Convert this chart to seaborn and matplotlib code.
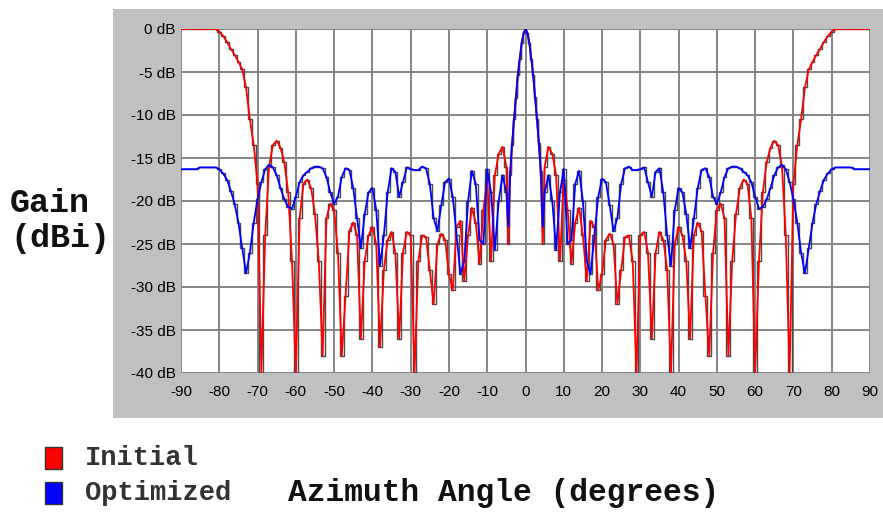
import numpy as np
import pandas as pd
import matplotlib
matplotlib.use("Agg")
import matplotlib.pyplot as plt
import seaborn as sns
from matplotlib.patches import Rectangle

# ---------------- data ----------------
angles = (list(range(-90, -4))
          + [-4.5, -4, -3.5, -3, -2.5, -2, -1.5, -1, -0.5, 0,
             0.5, 1, 1.5, 2, 2.5, 3, 3.5, 4, 4.5]
          + list(range(5, 91)))

initial_db = [
    0, 0, 0, 0, 0, 0, 0, 0, 0, 0,
    -0.3, -0.8, -1.5, -2.3, -3.0, -3.8, -4.7, -6.8, -10.5, -13.5,
    -18, -40, -24, -16, -13.5, -13, -13.8, -15.5, -19, -27,
    -40, -22, -18, -17.5, -18.5, -21.5, -27, -38, -22, -20.3,
    -21, -26, -38, -31, -23.5, -22.5, -24, -36, -27, -24,
    -23, -25, -37, -28, -24.5, -23.6, -26, -36, -26, -23.6,
    -24, -40, -27, -24, -24.2, -28, -32, -25, -23.8, -24.5,
    -28.5, -30.4, -23, -22.3, -29.3, -24, -20.8, -22.5, -27.3, -21,
    -17.5, -27, -17, -14.5, -13.7, -16,
    # main lobe, 0.5 degree steps (-4.5 .. 4.5)
    -25, -17, -13.5, -10.5, -8, -5.3, -3.5, -1.6, -0.5, 0,
    -0.5, -1.6, -3.5, -5.3, -8, -10.5, -13.5, -17, -25,
    -16, -13.7, -14.5, -17, -27, -17.5,
    -21, -27.3, -22.5, -20.8, -24, -29.3, -22.3, -23, -30.4, -28.5,
    -24.5, -23.8, -25, -32, -28, -24.2, -24, -27, -40, -24,
    -23.6, -26, -36, -26, -23.6, -24.5, -28, -40, -25, -23,
    -24, -27, -36, -24, -22.5, -23.5, -31, -38, -26, -21,
    -20.3, -22, -38, -27, -21.5, -18.5, -17.5, -18, -22, -40,
    -27, -19, -15.5, -13.8, -13, -13.5, -16, -24, -40, -18,
    -13.5, -10.5, -6.8, -4.7, -3.8, -3.0, -2.3, -1.5, -0.8, -0.3,
    0, 0, 0, 0, 0, 0, 0, 0, 0, 0,
]

optimized_db = [
    -16.3, -16.3, -16.3, -16.3, -16.3, -16.1, -16.1, -16.1, -16.1, -16.1,
    -16.3, -16.8, -17.5, -18.8, -20.3, -22.5, -25.5, -28.4, -26, -22.5,
    -19.8, -17.8, -16.3, -15.8, -16.1, -17, -18.5, -19.8, -20.7, -20.9,
    -19.5, -17.8, -17, -16.6, -16.2, -16, -16, -16.2, -17.2, -19,
    -20.3, -19.5, -17.2, -16.2, -16.4, -18.5, -22, -25.5, -21.5, -19,
    -18.5, -21, -27.5, -24, -19, -16.2, -16.6, -19.5, -17.8, -16.1,
    -16.3, -16.4, -16.4, -16, -16.2, -18, -22, -23.5, -20.5, -17.8,
    -17.4, -19.5, -24, -28.5, -27, -20, -16.5, -18, -24.5, -25,
    -16.3, -19, -25.7, -20, -17, -19,
    # main lobe, 0.5 degree steps (-4.5 .. 4.5)
    -23, -16.5, -13.3, -10.5, -7.9, -5.3, -3.5, -1.6, -0.5, 0,
    -0.5, -1.6, -3.5, -5.3, -7.9, -10.5, -13.3, -16.5, -23,
    -19, -17, -20, -25.7, -19, -16.3,
    -25, -24.5, -18, -16.5, -20, -27, -28.5, -24, -19.5, -17.4,
    -17.8, -20.5, -23.5, -22, -18, -16.2, -16, -16.4, -16.4, -16.3,
    -16.1, -17.8, -19.5, -16.6, -16.2, -19, -24, -27.5, -21, -18.5,
    -19, -21.5, -25.5, -22, -18.5, -16.4, -16.2, -17.2, -19.5, -20.3,
    -19, -17.2, -16.2, -16, -16, -16.2, -16.6, -17, -17.8, -19.5,
    -20.9, -20.7, -19.8, -18.5, -17, -16.1, -15.8, -16.3, -17.8, -19.8,
    -22.5, -26, -28.4, -25.5, -22.5, -20.3, -18.8, -17.5, -16.8, -16.3,
    -16.1, -16.1, -16.1, -16.1, -16.1, -16.3, -16.3, -16.3, -16.3, -16.3,
]

series_names = ["Initial", "Optimized"]
series_colors = ["#ff0000", "#0000ff"]
x_ticks = list(range(-90, 91, 10))
y_ticks = [0, -5, -10, -15, -20, -25, -30, -35, -40]
y_tick_labels = ["0 dB", "-5 dB", "-10 dB", "-15 dB", "-20 dB",
                 "-25 dB", "-30 dB", "-35 dB", "-40 dB"]
y_label = "Gain\n(dBi)"
x_label = "Azimuth Angle (degrees)"

# ---------------- figure ----------------
sns.set_theme(style="white")
plt.rcParams["font.family"] = ["Liberation Sans", "DejaVu Sans"]

W, H = 883, 512
fig = plt.figure(figsize=(W / 100, H / 100), dpi=100)
fig.patch.set_facecolor("white")

panel = Rectangle((113 / W, 1 - 418 / H), 770 / W, 409 / H,
                  transform=fig.transFigure, facecolor="#c0c0c0",
                  edgecolor="none", zorder=-5)
fig.patches.append(panel)

ax = fig.add_axes([181 / W, 1 - 373 / H, 689 / W, 344 / H])
ax.set_facecolor("white")

df = pd.DataFrame({
    "angle": angles * 2,
    "gain": initial_db + optimized_db,
    "series": [series_names[0]] * len(angles) + [series_names[1]] * len(angles),
})

# dark stair-step trace underneath (the dark risers seen in the original)
sns.lineplot(data=df, x="angle", y="gain", units="series", color="#4a4a4a",
             estimator=None, drawstyle="steps-mid", linewidth=1.0,
             legend=False, ax=ax, zorder=2)
# coloured traces on top
sns.lineplot(data=df, x="angle", y="gain", hue="series",
             palette=dict(zip(series_names, series_colors)),
             hue_order=series_names, estimator=None,
             linewidth=1.3, legend=False, ax=ax, zorder=3)

ax.set_xlim(-90, 90)
ax.set_ylim(-40, 0)
ax.set_xticks(x_ticks)
ax.set_xticklabels([str(v) for v in x_ticks])
ax.set_yticks(y_ticks)
ax.set_yticklabels(y_tick_labels)
ax.grid(True, color="#858585", linewidth=1.4, zorder=1)
ax.set_axisbelow(True)
for s in ax.spines.values():
    s.set_visible(False)
ax.tick_params(axis="both", length=0, labelsize=11, colors="black")
ax.tick_params(axis="y", pad=4)
ax.tick_params(axis="x", pad=9)
ax.set_xlabel("")
ax.set_ylabel("")

mono = ["Liberation Mono", "DejaVu Sans Mono"]
fig.text(10 / W, 1 - 221 / H, y_label, family=mono, weight="bold",
         fontsize=24, ha="left", va="center", linespacing=1.2, color="#111111")
fig.text(288 / W, 1 - 493 / H, x_label, family=mono, weight="bold",
         fontsize=22.5, ha="left", va="center", color="#111111")

# legend
legend_y = [458, 493]
for name, col, yc in zip(series_names, series_colors, legend_y):
    fig.patches.append(Rectangle((45 / W, 1 - (yc + 11) / H), 17 / W, 22 / H,
                                 transform=fig.transFigure, facecolor=col,
                                 edgecolor="#333333", linewidth=1.0))
    fig.text(85 / W, 1 - yc / H, name, family=mono, weight="bold",
             fontsize=19.5, ha="left", va="center", color="#333333")

fig.savefig("out.png", dpi=100)
